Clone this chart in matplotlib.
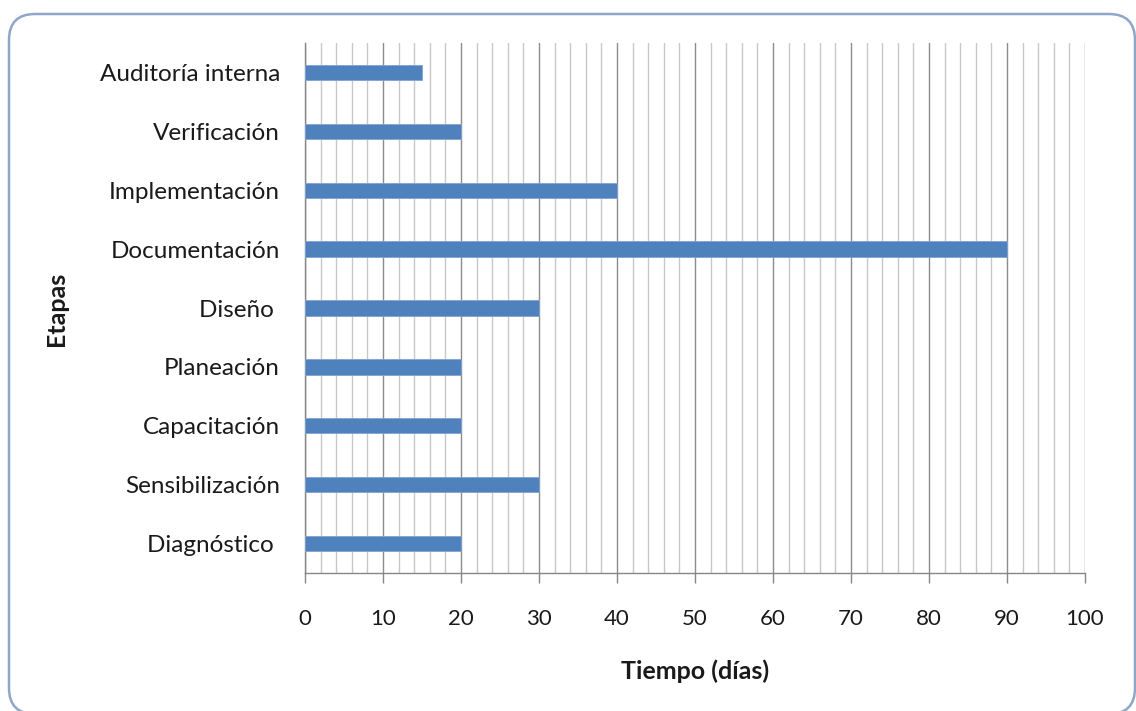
import matplotlib
matplotlib.use("Agg")
import matplotlib.pyplot as plt
from matplotlib.patches import FancyBboxPatch
from matplotlib.ticker import MultipleLocator

plt.rcParams['font.family'] = ['Lato', 'DejaVu Sans']

etapas = ["Diagnóstico ", "Sensibilización", "Capacitación", "Planeación", "Diseño ",
          "Documentación", "Implementación", "Verificación", "Auditoría interna"]
dias = [20, 30, 20, 20, 30, 90, 40, 20, 15]

W, H = 1136, 711
fig = plt.figure(figsize=(W / 100, H / 100), dpi=100)
fig.patch.set_facecolor("white")

# rounded outer frame (pixel coordinates)
frame = FancyBboxPatch((9, -3), 1126, 714 - 14,
                       boxstyle="round,pad=0,rounding_size=26",
                       transform=None, facecolor="white",
                       edgecolor="#8FA6C9", linewidth=1.8, zorder=-5)
fig.add_artist(frame)

ax = fig.add_axes([305 / W, 1 - 573 / H, 780 / W, 530 / H])
ax.set_facecolor("none")
ax.set_zorder(2)

y = range(len(etapas))
ax.barh(y, dias, height=0.26, color="#4F81BD", edgecolor="#7FA3D4", linewidth=0.6, zorder=3)

ax.set_xlim(0, 100)
ax.set_ylim(-0.5, len(etapas) - 0.5)
ax.set_yticks(list(y))
ax.set_yticklabels(etapas, fontsize=17.5, color="#1a1a1a")
ax.xaxis.set_major_locator(MultipleLocator(10))
ax.xaxis.set_minor_locator(MultipleLocator(2))
ax.tick_params(axis="x", which="major", length=7, width=1, color="#868686",
               labelsize=16, pad=19, labelcolor="#1a1a1a")
ax.tick_params(axis="x", which="minor", length=0)
ax.tick_params(axis="y", length=0, pad=18)

ax.grid(axis="x", which="minor", color="#C8C8C8", linewidth=1, zorder=1)
ax.grid(axis="x", which="major", color="#8C8C8C", linewidth=1, zorder=2)
ax.set_axisbelow(True)

for s in ["top", "right"]:
    ax.spines[s].set_visible(False)
for s in ["left", "bottom"]:
    ax.spines[s].set_color("#868686")
    ax.spines[s].set_linewidth(1)

ax.set_xlabel("Tiempo (días)", fontsize=18, fontweight="bold", labelpad=22, color="#1a1a1a")
ax.set_ylabel("Etapas", fontsize=18, fontweight="bold", color="#1a1a1a")
ax.yaxis.set_label_coords(68 / W, 1 - 309 / H, transform=fig.transFigure)

fig.savefig("out.png", dpi=100)
